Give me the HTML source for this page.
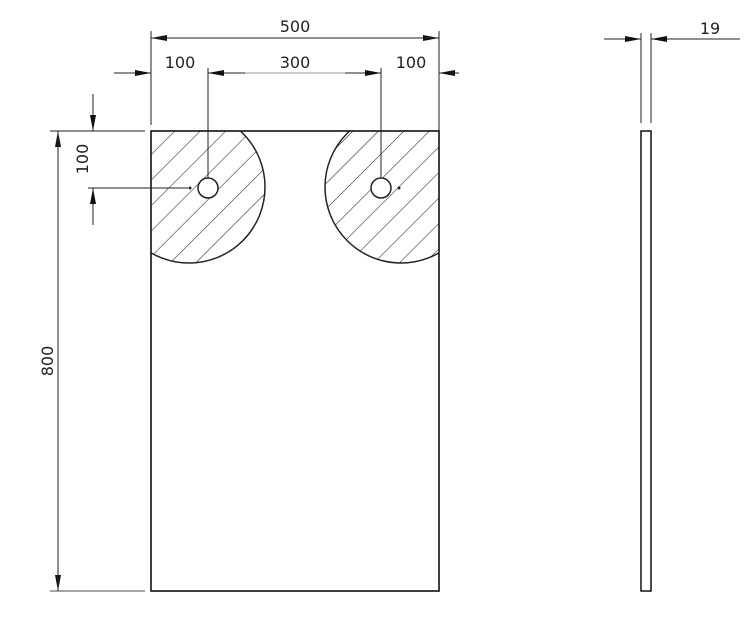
<!DOCTYPE html>
<html><head><style>
html,body{margin:0;padding:0;background:#fff;}
svg{display:block;}
text{font-family:"DejaVu Sans","Liberation Sans",sans-serif;font-size:16px;fill:#222;}
</style></head><body>
<svg width="755" height="617" viewBox="0 0 755 617" xmlns="http://www.w3.org/2000/svg">
<defs>
<marker id="a" viewBox="0 0 16 6" refX="16" refY="3" markerWidth="16" markerHeight="6" markerUnits="userSpaceOnUse" orient="auto"><path d="M0,0 L16,3 L0,6 z" fill="#111"/></marker>
<pattern id="h" patternUnits="userSpaceOnUse" width="18" height="18" patternTransform="rotate(45)"><line x1="0" y1="0" x2="0" y2="18" stroke="#222" stroke-width="1.1"/></pattern>
<clipPath id="c"><rect x="151" y="131" width="288" height="460"/></clipPath>
</defs>
<g clip-path="url(#c)">
<circle cx="189" cy="187" r="76" fill="url(#h)" stroke="#222" stroke-width="1.5"/>
<circle cx="401" cy="187" r="76" fill="url(#h)" stroke="#222" stroke-width="1.5"/>
</g>
<circle cx="208" cy="188" r="10" fill="#fff" stroke="#222" stroke-width="1.5"/>
<circle cx="381" cy="188" r="10" fill="#fff" stroke="#222" stroke-width="1.5"/>
<circle cx="190" cy="188" r="1.5" fill="#222"/>
<circle cx="399" cy="188" r="1.5" fill="#222"/>
<rect x="151" y="131" width="288" height="460" fill="none" stroke="#111" stroke-width="1.6"/>
<g stroke="#222" stroke-width="1" fill="none">
<line x1="151" y1="31" x2="151" y2="125"/>
<line x1="439" y1="31" x2="439" y2="131"/>
<line x1="200" y1="38" x2="151" y2="38" marker-end="url(#a)"/>
<line x1="390" y1="38" x2="439" y2="38" marker-end="url(#a)"/>
<line x1="151" y1="38" x2="439" y2="38"/>
<line x1="114" y1="73" x2="151" y2="73" marker-end="url(#a)"/>
<line x1="245" y1="73" x2="208" y2="73" marker-end="url(#a)"/>
<line x1="345" y1="73" x2="381" y2="73" marker-end="url(#a)"/>
<line x1="459" y1="73" x2="439" y2="73" marker-end="url(#a)"/>
<line x1="245" y1="73" x2="345" y2="73" stroke="#999"/>
<line x1="208" y1="68" x2="208" y2="178"/>
<line x1="381" y1="68" x2="381" y2="178"/>
<line x1="50" y1="131" x2="145" y2="131"/>
<line x1="50" y1="591" x2="145" y2="591" stroke="#888" stroke-width="1.5"/>
<line x1="58" y1="300" x2="58" y2="131" marker-end="url(#a)"/>
<line x1="58" y1="400" x2="58" y2="591" marker-end="url(#a)"/>
<line x1="58" y1="131" x2="58" y2="591"/>
<line x1="93" y1="94" x2="93" y2="131" marker-end="url(#a)"/>
<line x1="93" y1="225" x2="93" y2="188" marker-end="url(#a)"/>
<line x1="88" y1="188" x2="188" y2="188"/>
<line x1="641" y1="33" x2="641" y2="123"/>
<line x1="651" y1="33" x2="651" y2="123"/>
<line x1="604" y1="39" x2="641" y2="39" marker-end="url(#a)"/>
<line x1="740" y1="39" x2="651" y2="39" marker-end="url(#a)"/>
</g>
<rect x="641" y="131" width="10" height="460" fill="none" stroke="#111" stroke-width="1.5"/>
<text x="295" y="32" text-anchor="middle">500</text>
<text x="180" y="68" text-anchor="middle">100</text>
<text x="295" y="68" text-anchor="middle">300</text>
<text x="411" y="68" text-anchor="middle">100</text>
<text x="710" y="34" text-anchor="middle">19</text>
<text transform="translate(88,159) rotate(-90)" text-anchor="middle">100</text>
<text transform="translate(53,361) rotate(-90)" text-anchor="middle">800</text>
</svg>
</body></html>
